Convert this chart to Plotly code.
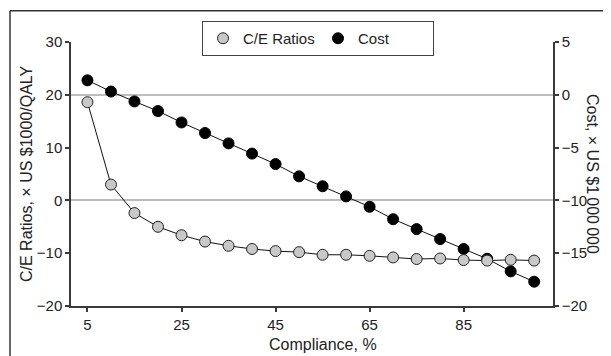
import plotly.graph_objects as go

compliance = [5, 10, 15, 20, 25, 30, 35, 40, 45, 50, 55, 60, 65, 70, 75, 80, 85, 90, 95, 100]
ce_ratios = [18.6, 3.0, -2.4, -5.0, -6.6, -7.8, -8.6, -9.2, -9.6, -9.8, -10.3, -10.3, -10.5,
             -10.8, -11.1, -11.0, -11.3, -11.4, -11.25, -11.4]
cost = [1.37, 0.31, -0.63, -1.54, -2.62, -3.62, -4.6, -5.57, -6.56, -7.72, -8.66, -9.62, -10.6,
        -11.78, -12.72, -13.66, -14.6, -15.53, -16.72, -17.7]
x_ticks = [5, 25, 45, 65, 85]
left_ticks = [-20, -10, 0, 10, 20, 30]
right_ticks = [-20, -15, -10, -5, 0, 5]

FONT = "Liberation Sans, Arial, sans-serif"
AX = "#3a3a3a"
OFF = 8  # page body margin in the browser
W, H = 611 - OFF, 356 - OFF
ML, MR, MT, MB = 63, 58, 34, 50
PW, PH = W - ML - MR, H - MT - MB


def px(xp):
    return (xp - OFF - ML) / PW


def py(yp):
    return (H - MB - (yp - OFF)) / PH


fig = go.Figure()
fig.add_trace(go.Scatter(
    x=compliance, y=cost, yaxis="y", mode="lines", showlegend=False, hoverinfo="skip",
    line=dict(color="#111", width=1),
))
fig.add_trace(go.Scatter(
    x=compliance, y=cost, name="Cost", yaxis="y", mode="markers", legendrank=2,
    marker=dict(size=11, color="#000", line=dict(color="#000", width=1)),
))
fig.add_trace(go.Scatter(
    x=compliance, y=ce_ratios, yaxis="y2", mode="lines", showlegend=False, hoverinfo="skip",
    line=dict(color="#111", width=1),
))
fig.add_trace(go.Scatter(
    x=compliance, y=ce_ratios, name="C/E Ratios", yaxis="y2", mode="markers", legendrank=1,
    marker=dict(size=11, color="#c8c8c8", line=dict(color="#222", width=1)),
))

common = dict(showgrid=False, showline=True, linecolor=AX, linewidth=1.5,
              ticks="outside", ticklen=4, tickcolor=AX, tickwidth=1.5,
              tickfont=dict(family=FONT, size=15, color="#222"))

fig.update_layout(
    width=W, height=H, margin=dict(l=ML, r=MR, t=MT, b=MB),
    paper_bgcolor="white", plot_bgcolor="white",
    showlegend=True,
    xaxis=dict(range=[1.5, 104], tickvals=x_ticks, zeroline=False, **common),
    yaxis=dict(range=[-20, 5], tickvals=right_ticks, side="right",
               zeroline=True, zerolinecolor="#bdbdbd", zerolinewidth=1.5, **common),
    yaxis2=dict(range=[-20, 30], tickvals=left_ticks, side="left", overlaying="y",
                zeroline=True, zerolinecolor="#bdbdbd", zerolinewidth=1.5, **common),
    legend=dict(orientation="h", x=px(202), y=py(21), xanchor="left", yanchor="top",
                bordercolor="#444", borderwidth=1, bgcolor="white",
                font=dict(family=FONT, size=15, color="#222"),
                entrywidth=70, entrywidthmode="pixels", itemclick=False),
    annotations=[
        dict(text="C/E Ratios, \u00d7 US $1000/QALY", xref="paper", yref="paper",
             x=px(26), y=0.5, textangle=-90, showarrow=False, xanchor="center", yanchor="middle",
             font=dict(family=FONT, size=16, color="#222")),
        dict(text="Cost, \u00d7 US $1\u2009000\u2009000", xref="paper", yref="paper",
             x=px(593), y=0.5, textangle=90, showarrow=False, xanchor="center", yanchor="middle",
             font=dict(family=FONT, size=16, color="#222")),
        dict(text="Compliance, %", xref="paper", yref="paper",
             x=px(322.5), y=py(344), showarrow=False, xanchor="center", yanchor="middle",
             font=dict(family=FONT, size=16, color="#222")),
    ],
    shapes=[
        dict(type="line", xref="paper", yref="paper", x0=px(10), x1=px(611 + 5), y0=py(10.7), y1=py(10.7),
             line=dict(color="#333", width=1.5)),
        dict(type="line", xref="paper", yref="paper", x0=px(10), x1=px(10), y0=py(10.7), y1=py(356 + 5),
             line=dict(color="#333", width=1.5)),
    ],
)

fig.write_html("out.html")
